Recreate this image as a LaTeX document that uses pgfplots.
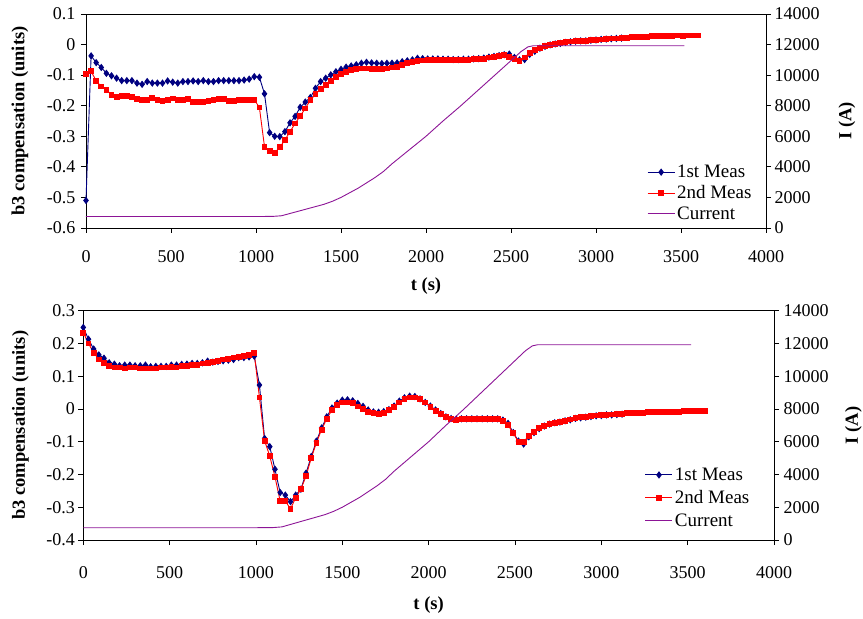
\documentclass[border=0pt]{standalone}
\usepackage{fontspec}
\setmainfont{Liberation Serif}
\usepackage{pgfplots}
\usepackage{pgfplotstable}
\pgfplotsset{compat=1.18}

\definecolor{measA}{RGB}{0,0,128}
\definecolor{measB}{RGB}{255,0,0}
\definecolor{curr}{RGB}{140,20,150}

% ---------- first ramp: b3 compensation, 1st measurement ----------
\pgfplotstableread{
t v
0 -0.510
30 -0.037
60 -0.059
90 -0.075
120 -0.094
150 -0.102
180 -0.110
210 -0.118
240 -0.118
270 -0.118
300 -0.126
330 -0.130
360 -0.121
390 -0.126
420 -0.126
450 -0.126
480 -0.119
510 -0.123
540 -0.126
570 -0.121
600 -0.121
630 -0.119
660 -0.121
690 -0.118
720 -0.121
750 -0.121
780 -0.118
810 -0.118
840 -0.118
870 -0.118
900 -0.118
930 -0.116
960 -0.113
990 -0.105
1020 -0.107
1050 -0.161
1080 -0.288
1110 -0.300
1140 -0.301
1170 -0.285
1200 -0.256
1230 -0.235
1260 -0.205
1290 -0.188
1320 -0.173
1350 -0.143
1380 -0.121
1410 -0.110
1440 -0.099
1470 -0.089
1500 -0.081
1530 -0.074
1560 -0.070
1590 -0.066
1620 -0.061
1650 -0.058
1680 -0.060
1710 -0.061
1740 -0.062
1770 -0.061
1800 -0.061
1830 -0.060
1860 -0.056
1890 -0.053
1920 -0.050
1950 -0.045
1980 -0.046
2010 -0.047
2040 -0.047
2070 -0.047
2100 -0.048
2130 -0.048
2160 -0.049
2190 -0.049
2220 -0.048
2250 -0.048
2280 -0.047
2310 -0.046
2340 -0.044
2370 -0.041
2400 -0.039
2430 -0.036
2460 -0.033
2490 -0.031
2520 -0.042
2550 -0.050
2580 -0.049
2610 -0.032
2640 -0.022
2670 -0.012
2700 -0.006
2730 -0.001
2760 0.002
2790 0.004
2820 0.007
2850 0.009
2880 0.011
2910 0.012
2940 0.012
2970 0.014
3000 0.015
3030 0.017
3060 0.018
3090 0.019
3120 0.020
3150 0.021
}\topA

% ---------- first ramp: b3 compensation, 2nd measurement ----------
\pgfplotstableread{
t v
0 -0.096
30 -0.087
60 -0.119
90 -0.137
120 -0.148
150 -0.164
180 -0.171
210 -0.168
240 -0.168
270 -0.172
300 -0.178
330 -0.181
360 -0.181
390 -0.174
420 -0.181
450 -0.184
480 -0.181
510 -0.176
540 -0.181
570 -0.181
600 -0.179
630 -0.189
660 -0.187
690 -0.189
720 -0.184
750 -0.181
780 -0.178
810 -0.179
840 -0.184
870 -0.184
900 -0.181
930 -0.181
960 -0.181
990 -0.180
1020 -0.206
1050 -0.334
1080 -0.347
1110 -0.354
1140 -0.336
1170 -0.312
1200 -0.285
1230 -0.258
1260 -0.234
1290 -0.209
1320 -0.181
1350 -0.162
1380 -0.146
1410 -0.132
1440 -0.118
1470 -0.105
1500 -0.096
1530 -0.089
1560 -0.083
1590 -0.080
1620 -0.078
1650 -0.078
1680 -0.080
1710 -0.080
1740 -0.080
1770 -0.078
1800 -0.075
1830 -0.072
1860 -0.066
1890 -0.061
1920 -0.058
1950 -0.054
1980 -0.052
2010 -0.050
2040 -0.049
2070 -0.049
2100 -0.049
2130 -0.049
2160 -0.050
2190 -0.050
2220 -0.049
2250 -0.049
2280 -0.048
2310 -0.047
2340 -0.046
2370 -0.042
2400 -0.040
2430 -0.038
2460 -0.034
2490 -0.040
2520 -0.048
2550 -0.053
2580 -0.042
2610 -0.027
2640 -0.018
2670 -0.012
2700 -0.005
2730 -0.001
2760 0.002
2790 0.004
2820 0.008
2850 0.010
2880 0.012
2910 0.012
2940 0.013
2970 0.014
3000 0.016
3030 0.017
3060 0.018
3090 0.020
3120 0.020
3150 0.021
3180 0.021
3210 0.024
3240 0.024
3270 0.024
3300 0.024
3330 0.027
3360 0.027
3390 0.027
3420 0.027
3450 0.027
3480 0.030
3510 0.027
3540 0.030
3570 0.030
3600 0.030
}\topB

% ---------- second ramp: b3 compensation, 1st measurement ----------
\pgfplotstableread{
t v
0 0.249
30 0.213
60 0.183
90 0.165
120 0.155
150 0.141
180 0.137
210 0.132
240 0.134
270 0.134
300 0.132
330 0.132
360 0.134
390 0.129
420 0.130
450 0.130
480 0.130
510 0.134
540 0.134
570 0.136
600 0.137
630 0.139
660 0.139
690 0.141
720 0.146
750 0.143
780 0.145
810 0.147
840 0.149
870 0.151
900 0.157
930 0.157
960 0.159
990 0.161
1020 0.073
1050 -0.090
1080 -0.115
1110 -0.184
1140 -0.255
1170 -0.263
1200 -0.283
1230 -0.263
1260 -0.245
1290 -0.196
1320 -0.145
1350 -0.098
1380 -0.058
1410 -0.024
1440 0.003
1470 0.018
1500 0.027
1530 0.028
1560 0.025
1590 0.017
1620 0.008
1650 -0.003
1680 -0.009
1710 -0.010
1740 -0.008
1770 -0.002
1800 0.009
1830 0.024
1860 0.034
1890 0.039
1920 0.038
1950 0.031
1980 0.020
2010 0.009
2040 -0.003
2070 -0.014
2100 -0.024
2130 -0.029
2160 -0.031
2190 -0.030
2220 -0.030
2250 -0.030
2280 -0.030
2310 -0.030
2340 -0.030
2370 -0.030
2400 -0.030
2430 -0.034
2460 -0.044
2490 -0.072
2520 -0.098
2550 -0.107
2580 -0.085
2610 -0.072
2640 -0.060
2670 -0.052
2700 -0.046
2730 -0.042
2760 -0.040
2790 -0.036
2820 -0.033
2850 -0.029
2880 -0.027
2910 -0.025
2940 -0.023
2970 -0.021
3000 -0.020
3030 -0.018
3060 -0.018
3090 -0.017
3120 -0.016
}\botA

% ---------- second ramp: b3 compensation, 2nd measurement ----------
\pgfplotstableread{
t v
0 0.233
30 0.200
60 0.172
90 0.151
120 0.141
150 0.132
180 0.127
210 0.127
240 0.124
270 0.127
300 0.127
330 0.124
360 0.124
390 0.124
420 0.124
450 0.127
480 0.127
510 0.129
540 0.127
570 0.131
600 0.131
630 0.134
660 0.134
690 0.139
720 0.141
750 0.144
780 0.146
810 0.151
840 0.153
870 0.157
900 0.160
930 0.162
960 0.164
990 0.170
1020 0.035
1050 -0.097
1080 -0.144
1110 -0.207
1140 -0.281
1170 -0.281
1200 -0.305
1230 -0.271
1260 -0.245
1290 -0.205
1320 -0.150
1350 -0.103
1380 -0.063
1410 -0.030
1440 -0.003
1470 0.012
1500 0.020
1530 0.020
1560 0.018
1590 0.008
1620 0.000
1650 -0.008
1680 -0.013
1710 -0.016
1740 -0.013
1770 -0.003
1800 0.007
1830 0.020
1860 0.030
1890 0.035
1920 0.035
1950 0.030
1980 0.020
2010 0.007
2040 -0.005
2070 -0.016
2100 -0.025
2130 -0.030
2160 -0.033
2190 -0.031
2220 -0.031
2250 -0.031
2280 -0.031
2310 -0.031
2340 -0.031
2370 -0.031
2400 -0.031
2430 -0.036
2460 -0.049
2490 -0.074
2520 -0.100
2550 -0.100
2580 -0.082
2610 -0.069
2640 -0.059
2670 -0.052
2700 -0.046
2730 -0.042
2760 -0.039
2790 -0.036
2820 -0.032
2850 -0.028
2880 -0.025
2910 -0.025
2940 -0.022
2970 -0.020
3000 -0.019
3030 -0.018
3060 -0.017
3090 -0.016
3120 -0.015
3150 -0.013
3180 -0.012
3210 -0.012
3240 -0.011
3270 -0.010
3300 -0.010
3330 -0.009
3360 -0.009
3390 -0.008
3420 -0.008
3450 -0.008
3480 -0.007
3510 -0.006
3540 -0.006
3570 -0.005
3600 -0.005
}\botB

% ---------- magnet current during the ramp ----------
\pgfplotstableread{
t I
0 750
1000 750
1100 760
1150 800
1200 950
1250 1100
1300 1250
1350 1400
1400 1550
1450 1750
1500 2000
1550 2300
1600 2600
1650 2950
1700 3300
1750 3700
1800 4200
1850 4650
1900 5100
1950 5550
2000 6000
2100 7000
2200 7950
2300 8950
2400 9950
2500 10950
2560 11550
2600 11850
2630 11920
3520 11920
}\current

\pgfplotsset{
  legend image code/.code={%
    \draw[mark repeat=2,mark phase=2,#1] plot coordinates {(0pt,0pt) (13.5pt,0pt) (27pt,0pt)};},
  b3axis/.style={
    scale only axis, clip=false,
    xmin=0, xmax=4000, xtick={0,500,...,4000},
    tick align=outside, major tick length=5pt,
    every tick/.style={black, line width=0.9pt},
    axis line style={black, line width=0.9pt},
    scaled ticks=false,
    /pgf/number format/assume math mode=true,
    /pgf/number format/1000 sep={},
    tick label style={font=\fontsize{18}{20}\selectfont},
    label style={font=\bfseries\fontsize{18.5}{22}\selectfont},
    legend cell align=left,
  },
  sA/.style={color=measA, line width=0.9pt, mark=diamond*, mark size=3pt, mark options={solid, fill=measA}},
  sB/.style={color=measB, line width=0.9pt, mark=square*, mark size=2.4pt, mark options={solid, fill=measB}},
  sC/.style={color=curr, line width=0.9pt, no markers},
}

\begin{document}
\begin{tikzpicture}
\useasboundingbox (0,0) rectangle (863pt,619pt);

% ===== first ramp =====
\begin{axis}[b3axis, at={(86pt,391pt)}, anchor=south west, width=680pt, height=214pt,
  ymin=-0.6, ymax=0.1, ytick={-0.6,-0.5,-0.4,-0.3,-0.2,-0.1,0,0.1},
  xtick pos=left, ytick pos=left,
  xticklabel style={yshift=-14pt},
  yticklabel style={xshift=-2pt},
  xlabel={t (s)}, ylabel={b3 compensation (units)},
  xlabel style={at={(axis description cs:0.5,-0.271)}, anchor=center},
  ylabel style={at={(axis description cs:-0.097,0.5)}, anchor=center}]
\addplot[sA] table[x=t,y=v] {\topA};
\addplot[sB] table[x=t,y=v] {\topB};
\end{axis}
\begin{axis}[b3axis, at={(86pt,391pt)}, anchor=south west, width=680pt, height=214pt,
  ymin=0, ymax=14000, ytick={0,2000,...,14000},
  axis y line*=right, hide x axis,
  ylabel={I (A)},
  ylabel style={at={(axis description cs:1.119,0.5)}, anchor=center},
  legend style={draw=none, fill=none, at={(0.825,0.304)}, anchor=north west,
    inner sep=0pt, row sep=2.5pt, font=\fontsize{19}{22}\selectfont}]
\addlegendimage{sA}
\addlegendentry{1st Meas}
\addlegendimage{sB}
\addlegendentry{2nd Meas}
\addplot[sC] table[x=t,y=I] {\current};
\addlegendentry{Current}
\end{axis}

% ===== second ramp =====
\begin{axis}[b3axis, at={(83.3pt,79pt)}, anchor=south west, width=690.7pt, height=229.3pt,
  ymin=-0.4, ymax=0.3, ytick={-0.4,-0.3,-0.2,-0.1,0,0.1,0.2,0.3},
  xtick pos=left, ytick pos=left,
  xticklabel style={yshift=-18pt},
  xlabel={t (s)}, ylabel={b3 compensation (units)},
  xlabel style={at={(axis description cs:0.5,-0.283)}, anchor=center},
  ylabel style={at={(axis description cs:-0.091,0.5)}, anchor=center}]
\addplot[sA] table[x=t,y=v] {\botA};
\addplot[sB] table[x=t,y=v] {\botB};
\end{axis}
\begin{axis}[b3axis, at={(83.3pt,79pt)}, anchor=south west, width=690.7pt, height=229.3pt,
  ymin=0, ymax=14000, ytick={0,2000,...,14000},
  axis y line*=right, hide x axis,
  yticklabel style={xshift=1pt},
  ylabel={I (A)},
  ylabel style={at={(axis description cs:1.115,0.5)}, anchor=center},
  legend style={draw=none, fill=none, at={(0.813,0.324)}, anchor=north west,
    inner sep=0pt, row sep=4.5pt, font=\fontsize{19}{22}\selectfont}]
\addlegendimage{sA}
\addlegendentry{1st Meas}
\addlegendimage{sB}
\addlegendentry{2nd Meas}
\addplot[sC] table[x=t,y=I] {\current};
\addlegendentry{Current}
\end{axis}
\end{tikzpicture}
\end{document}
